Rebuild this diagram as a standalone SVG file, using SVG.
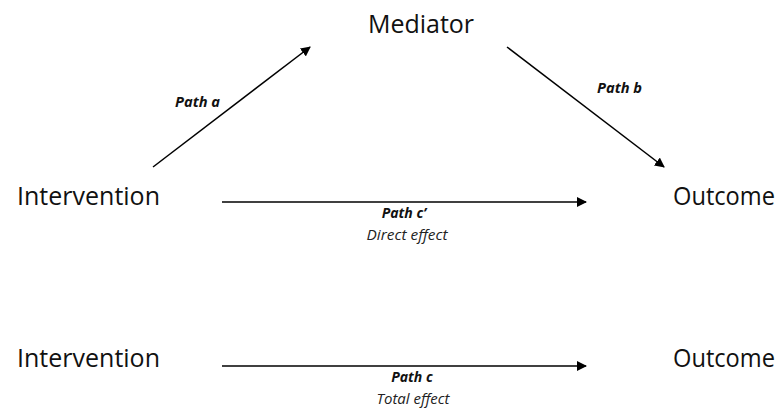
<svg xmlns="http://www.w3.org/2000/svg" width="780" height="409" viewBox="0 0 780 409">
<defs>
<marker id="ah" viewBox="0 0 10 10" refX="9" refY="5" markerWidth="10" markerHeight="10" markerUnits="userSpaceOnUse" orient="auto">
<path d="M0,0 L10,5 L0,10 Z" fill="#000"/>
</marker>
</defs>
<style>
.node{font-family:"Open Sans","Liberation Sans",sans-serif;font-size:25px;fill:#111}
.lab{font-family:"Open Sans","Liberation Sans",sans-serif;font-size:14px;font-style:italic;font-weight:bold;fill:#111}
.sub{font-family:"Open Sans","Liberation Sans",sans-serif;font-size:14px;font-style:italic;fill:#222}
.edge{stroke:#000;stroke-width:1.5;fill:none;marker-end:url(#ah)}
</style>
<rect width="780" height="409" fill="#fff"/>
<g id="mediator"><text class="node" x="421" y="33" text-anchor="middle">Mediator</text></g>
<g id="intervention1"><text class="node" x="17" y="205" textLength="143" lengthAdjust="spacingAndGlyphs">Intervention</text></g>
<g id="outcome1"><text class="node" x="673" y="205" textLength="102" lengthAdjust="spacingAndGlyphs">Outcome</text></g>
<g id="intervention2"><text class="node" x="17" y="367" textLength="143" lengthAdjust="spacingAndGlyphs">Intervention</text></g>
<g id="outcome2"><text class="node" x="673" y="367" textLength="102" lengthAdjust="spacingAndGlyphs">Outcome</text></g>
<g id="connectors">
<line class="edge" x1="153" y1="167" x2="310" y2="47"/>
<line class="edge" x1="507" y1="47" x2="664" y2="167"/>
<line class="edge" x1="222" y1="202" x2="586" y2="202"/>
<line class="edge" x1="222" y1="366" x2="586" y2="366"/>
</g>
<g id="labels">
<text class="lab" x="175" y="107" textLength="45" lengthAdjust="spacingAndGlyphs">Path a</text>
<text class="lab" x="597" y="93" textLength="45" lengthAdjust="spacingAndGlyphs">Path b</text>
<text class="lab" x="404" y="218" text-anchor="middle">Path c’</text>
<text class="sub" x="407" y="240" text-anchor="middle" textLength="81" lengthAdjust="spacingAndGlyphs">Direct effect</text>
<text class="lab" x="412" y="382" text-anchor="middle">Path c</text>
<text class="sub" x="413" y="404" text-anchor="middle" textLength="73" lengthAdjust="spacingAndGlyphs">Total effect</text>
</g>
</svg>
